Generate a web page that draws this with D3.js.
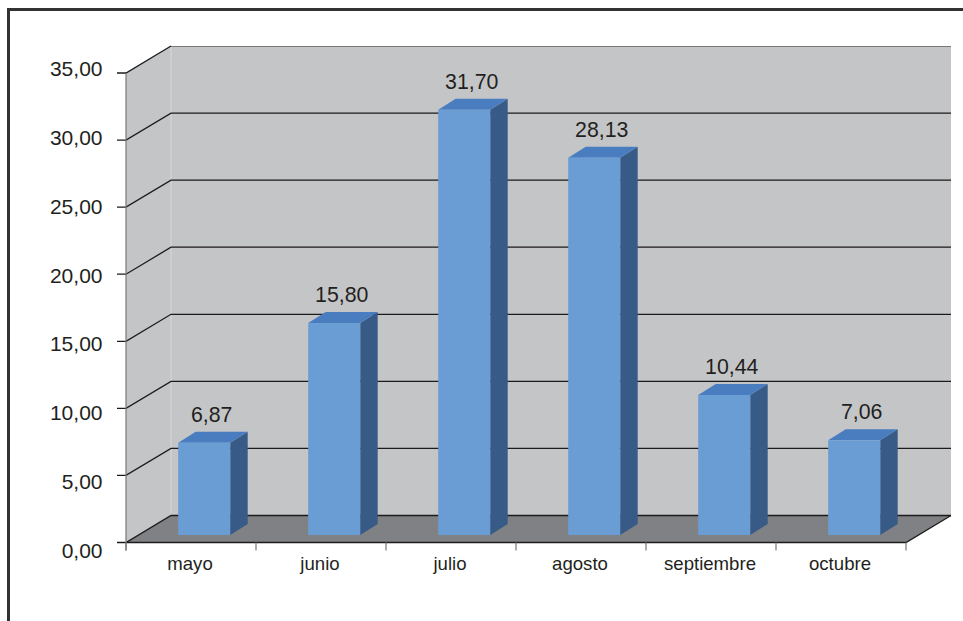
<!DOCTYPE html>
<html lang="es">
<head>
<meta charset="utf-8">
<script src="https://cdn.jsdelivr.net/npm/d3@7/dist/d3.min.js"></script>
<style>
html,body{margin:0;padding:0;background:#fff;overflow:hidden}
svg{display:block}
text{font-family:"Liberation Sans",Arial,sans-serif;fill:#231f20}
</style>
</head>
<body>
<svg id="chart" width="963" height="621"></svg>
<script>
// Monthly values
const months = ["mayo","junio","julio","agosto","septiembre","octubre"];
const values = [6.87,15.80,31.70,28.13,10.44,7.06];
const yTicks = [0,5,10,15,20,25,30,35];

const fmt = v => v.toFixed(2).replace(".", ",");

const svg = d3.select("#chart");
const left = 126, right = 906, base = 542.5, top_ = 73;
const depthX = 45, depthY = -27;      // oblique offset from the front plane to the back wall
const barDX = 17.5, barDY = -11;      // oblique depth of a column
const seatX = 13.2, seatY = -7.5;     // columns stand this far behind the front plane

const x = d3.scaleBand().domain(months).range([left, right]).paddingInner(0.6).paddingOuter(0.3);
const xTick = d3.scaleBand().domain(months).range([left, right]);
const y = d3.scaleLinear().domain([0, 35]).range([base, top_]);
// Axis labels sit on a slightly wider spacing than the gridlines
const yLabel = d3.scaleLinear().domain([0, 35]).range([558, 76]);

// Outer frame: top and left edges only
svg.append("path").attr("d", "M8.5,621V9.5H963")
  .attr("fill", "none").attr("stroke", "#333132").attr("stroke-width", 3);

const pts = a => a.map(p => p.join(",")).join(" ");

// Walls
svg.append("polygon").attr("fill", "#c4c5c7")
  .attr("points", pts([[left, y(35)], [left + depthX, y(35) + depthY], [right + depthX, y(35) + depthY], [right + depthX, base + depthY], [left + depthX, base + depthY], [left, base]]));
svg.append("line").attr("x1", left + depthX).attr("x2", left + depthX)
  .attr("y1", y(35) + depthY).attr("y2", base + depthY)
  .attr("stroke", "#d6d7d8").attr("stroke-width", 1);
svg.append("line").attr("x1", left + depthX).attr("x2", right + depthX)
  .attr("y1", y(35) + depthY + 0.5).attr("y2", y(35) + depthY + 0.5)
  .attr("stroke", "#77787b").attr("stroke-width", 1);

// Floor
svg.append("polygon").attr("fill", "#808184")
  .attr("points", pts([[left, base], [left + depthX, base + depthY], [right + depthX, base + depthY], [right, base]]));

// Gridlines wrapping from the side wall on to the back wall
svg.append("g").selectAll("path").data(yTicks).join("path")
  .attr("fill", "none")
  .attr("stroke", "#1c1a1b").attr("stroke-width", 1.3)
  .attr("d", d => d === 35
    ? `M${left - 9},${y(d)}H${left}L${left + depthX},${y(d) + depthY}`
    : `M${left - 9},${y(d)}H${left}L${left + depthX},${y(d) + depthY}H${right + depthX}`);

// Floor front and right edges, axis lines and category ticks
svg.append("path").attr("fill", "none").attr("stroke", "#1c1a1b").attr("stroke-width", 1.3)
  .attr("d", `M${left},${base}H${right}L${right + depthX},${base + depthY}`);
svg.append("line").attr("x1", left).attr("x2", left).attr("y1", y(35)).attr("y2", base + 8)
  .attr("stroke", "#77787b").attr("stroke-width", 1.2);
svg.append("g").selectAll("line").data(months.map(m => xTick(m)).concat([right])).join("line")
  .attr("x1", d => d).attr("x2", d => d).attr("y1", base).attr("y2", base + 8)
  .attr("stroke", "#77787b").attr("stroke-width", 1.2);

// Value axis labels
svg.append("g").selectAll("text").data(yTicks).join("text")
  .attr("x", 102.5).attr("y", d => yLabel(d))
  .attr("text-anchor", "end").attr("font-size", 21)
  .text(fmt);

// Category labels
svg.append("g").selectAll("text").data(months).join("text")
  .attr("x", m => xTick(m) + xTick.bandwidth() / 2 - 1).attr("y", 570)
  .attr("text-anchor", "middle").attr("font-size", 18.6)
  .text(m => m);

// Columns: side, top, front, then the value above
const bars = svg.append("g").selectAll("g").data(months.map((m, i) => ({m, v: values[i]}))).join("g");
const bx = d => x(d.m) + seatX;
const h = d => base - y(d.v);
const by = d => base + seatY;
bars.append("polygon").attr("fill", "#375a86").attr("points", d => {
  const X = bx(d) + x.bandwidth(), B = by(d), T = B - h(d);
  return pts([[X, B], [X + barDX, B + barDY], [X + barDX, T + barDY], [X, T]]);
});
bars.append("polygon").attr("fill", "#4a7dc0").attr("points", d => {
  const X = bx(d), T = by(d) - h(d), W = x.bandwidth();
  return pts([[X, T], [X + barDX, T + barDY], [X + W + barDX, T + barDY], [X + W, T]]);
});
bars.append("rect").attr("fill", "#699dd4")
  .attr("x", bx).attr("y", d => by(d) - h(d))
  .attr("width", x.bandwidth()).attr("height", h);
bars.append("text")
  .attr("x", d => bx(d) + x.bandwidth() / 2 + 7.5).attr("y", d => by(d) - h(d) - 21)
  .attr("text-anchor", "middle").attr("font-size", 21.3)
  .text(d => fmt(d.v));
</script>
</body>
</html>
